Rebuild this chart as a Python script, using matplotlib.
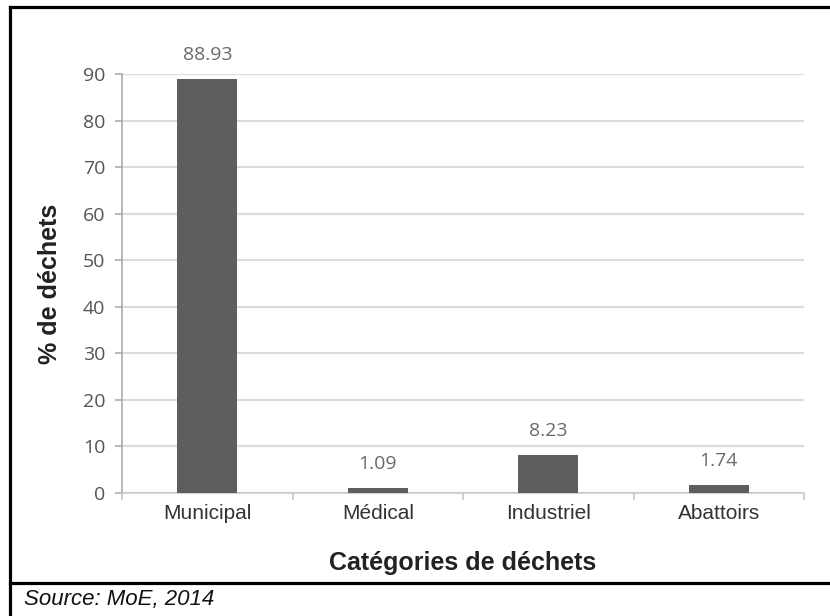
import numpy as np
import matplotlib.pyplot as plt
from matplotlib.lines import Line2D

# data
categories = ["Municipal", "Médical", "Industriel", "Abattoirs"]
values = [88.93, 1.09, 8.23, 1.74]
value_labels = ["88.93", "1.09", "8.23", "1.74"]
yticks = [0, 10, 20, 30, 40, 50, 60, 70, 80, 90]

fig = plt.figure(figsize=(8.3, 6.16), dpi=100)
ax = fig.add_axes([122/830, 1-493/616, (804-122)/830, (493-74)/616])

x = np.arange(len(categories))
bars = ax.bar(x, values, width=0.35, color="#5e5e5e", zorder=3)

# value labels above bars
for xi, v, lab in zip(x, values, value_labels):
    ax.annotate(lab, xy=(xi, v), xytext=(0, 17), textcoords="offset points",
                ha="center", va="center", fontsize=14, family="Open Sans",
                color="#6a6a6a")

ax.set_xlim(-0.5, len(categories) - 0.5)
ax.set_ylim(0, 90)
ax.set_yticks(yticks)
ax.set_yticklabels([str(t) for t in yticks], family="Open Sans", fontsize=14,
                   color="#555555")
ax.tick_params(axis="y", length=5, width=1.1, color="#a6a6a6", pad=7)

ax.set_xticks(x)
ax.set_xticklabels(categories, family="Liberation Sans", fontsize=15,
                   color="#333333")
ax.set_xticks(np.arange(len(categories) + 1) - 0.5, minor=True)
ax.tick_params(axis="x", which="major", length=0, pad=8)
ax.tick_params(axis="x", which="minor", length=5, width=1.1, color="#c0c0c0")

ax.grid(axis="y", color="#dcdcdc", linewidth=1.6, zorder=0)
for s in ["top", "right"]:
    ax.spines[s].set_visible(False)
ax.spines["left"].set_color("#a6a6a6")
ax.spines["left"].set_linewidth(1.1)
ax.spines["bottom"].set_color("#c8c8c8")
ax.spines["bottom"].set_linewidth(1.1)

ax.set_xlabel("Catégories de déchets", family="Liberation Sans", fontsize=18,
              fontweight="bold", color="#222222", va="center")
ax.xaxis.set_label_coords(0.5, (493-563)/(493-74))
ax.set_ylabel("% de déchets", family="Liberation Sans", fontsize=18,
              fontweight="bold", color="#222222", va="center")
ax.yaxis.set_label_coords((50-122)/(804-122), 0.5)

# frame around the chart and the source row
W, H = 830, 616
lw = 2.3
fig.add_artist(Line2D([10/W, 1], [1-7/H, 1-7/H], color="black", lw=lw))
fig.add_artist(Line2D([10/W, 10/W], [0, 1-7/H], color="black", lw=lw))
fig.add_artist(Line2D([10/W, 1], [1-583/H, 1-583/H], color="black", lw=lw))

fig.text(24/W, 1-600/H, "Source: MoE, 2014", family="Liberation Sans",
         fontsize=16, style="italic", color="#111111", va="center", ha="left")

fig.savefig("out.png", dpi=100, facecolor="white")
